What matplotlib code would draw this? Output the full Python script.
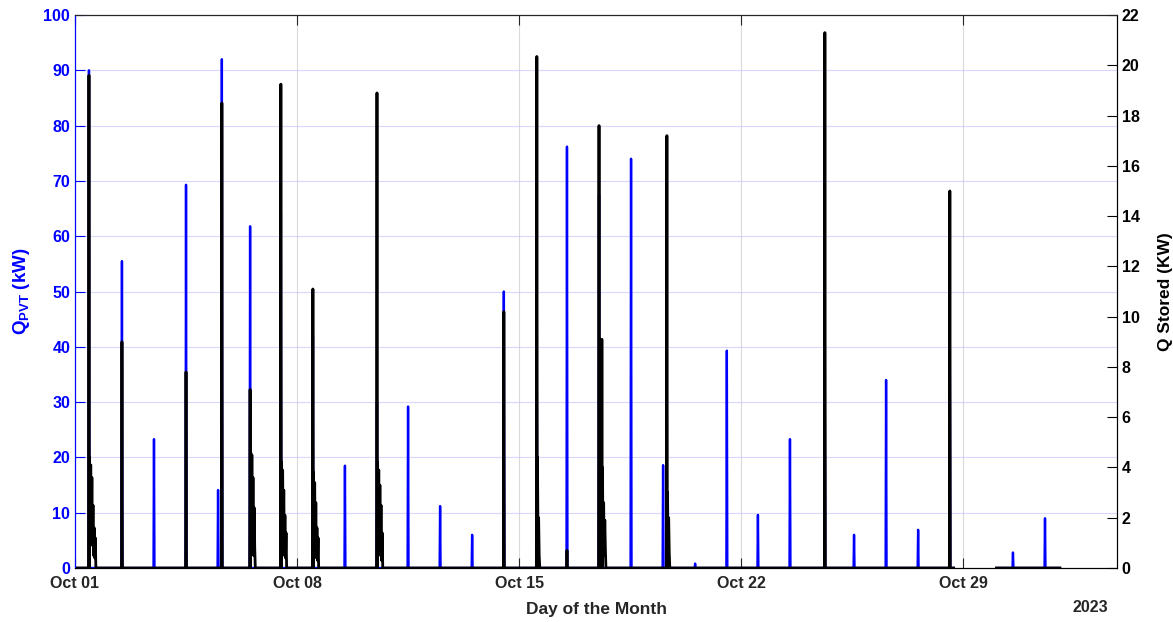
import datetime as dt
import numpy as np
import matplotlib
matplotlib.use('Agg')
import matplotlib.pyplot as plt
import matplotlib.dates as mdates

START = dt.datetime(2023, 10, 1)

# Q_PVT spikes (kW): day offset from Oct 01 00:00, peak value
pvt_days = [0.44, 1.48, 2.49, 3.50, 4.51, 4.63, 5.52, 6.49, 7.50, 8.51, 9.52,
            10.50, 11.51, 12.52, 13.52, 14.56, 15.51, 16.52, 17.53, 18.54,
            19.55, 20.55, 21.53, 22.54, 23.64, 24.56, 25.57, 26.58, 27.58,
            29.57, 30.58]
pvt_peaks = [90.0, 55.5, 23.3, 69.3, 14.1, 92.0, 61.8, 64.0, 42.0, 18.5, 30.0,
             29.2, 11.2, 6.0, 50.0, 32.0, 76.2, 67.5, 74.0, 18.6,
             0.8, 39.3, 9.6, 23.3, 27.0, 6.0, 34.0, 6.9, 39.6,
             2.8, 9.0]

# Q stored spikes (kW)
stored_days = [0.44, 1.48, 3.50, 4.63, 5.52, 6.49, 7.50, 9.52, 13.52, 14.56,
               15.51, 16.52, 16.61, 18.66, 23.64, 27.58]
stored_peaks = [19.6, 9.0, 7.8, 18.5, 7.1, 19.25, 11.1, 18.9, 10.2, 20.35,
                0.7, 17.6, 9.1, 17.2, 21.3, 15.0]

# decaying tails that follow some of the stored spikes
tail_days = [0.46, 5.54, 6.51, 7.52, 9.54, 14.58, 16.63, 18.68]
tail_values = [
    [4.4, 1.5, 4.1, 1.2, 3.6, 0.9, 2.5, 0.5, 1.6, 0.4, 1.2],
    [4.6, 1.0, 4.5, 0.8, 3.6, 0.5, 2.4, 0.8],
    [4.2, 0.8, 3.9, 1.0, 3.1, 0.5, 2.1, 0.4, 1.4],
    [3.8, 0.9, 3.4, 0.7, 2.6, 0.4, 1.6, 0.3, 1.2],
    [4.2, 1.0, 3.9, 0.8, 3.3, 0.5, 2.5, 0.3, 1.4],
    [4.4, 0.8, 2.0, 0.5],
    [4.0, 0.7, 2.6, 0.5, 1.9, 0.8],
    [3.0, 0.6, 2.0, 0.6],
]

# spans where the logger recorded data (day offsets)
pvt_spans = [(0.0, 27.7), (29.05, 31.05)]
stored_spans = [(0.0, 27.7), (29.05, 31.05)]


def spike_series(days, peaks, spans, tails=(), tail_vals=()):
    half = 0.015
    step = 0.018
    pts = []
    for d, p in zip(days, peaks):
        pts += [(d - half, 0.0), (d, p), (d + half, 0.0)]
    for d, vals in zip(tails, tail_vals):
        for i, v in enumerate(vals):
            pts.append((d + i * step, v))
        pts.append((d + len(vals) * step, 0.0))
    pts.sort()
    times, vals = [], []
    for a, b in spans:
        seg = [(a, 0.0)] + [p for p in pts if a < p[0] < b] + [(b, 0.0)]
        times += [START + dt.timedelta(days=p[0]) for p in seg]
        vals += [p[1] for p in seg]
        times.append(START + dt.timedelta(days=b + 0.01))
        vals.append(np.nan)
    return times, vals


pvt_t, pvt_y = spike_series(pvt_days, pvt_peaks, pvt_spans)
st_t, st_y = spike_series(stored_days, stored_peaks, stored_spans,
                          tail_days, tail_values)

plt.rcParams['font.family'] = ['Liberation Sans', 'DejaVu Sans']
plt.rcParams['font.weight'] = 'bold'
plt.rcParams['mathtext.fontset'] = 'custom'
plt.rcParams['mathtext.bf'] = 'Liberation Sans:bold'
plt.rcParams['mathtext.rm'] = 'Liberation Sans:bold'

fig = plt.figure(figsize=(11.73, 6.22), dpi=100)
ax1 = fig.add_axes([75 / 1173, 54 / 622, 1042 / 1173, 553 / 622])
ax2 = ax1.twinx()

blue = '#0000ff'
dark = '#262626'

ax1.plot(pvt_t, pvt_y, color=blue, linewidth=1.7)
ax2.plot(st_t, st_y, color='black', linewidth=2.0)

ax1.set_xlim(START, START + dt.timedelta(days=32.85))
ax1.set_ylim(0, 100)
ax2.set_ylim(0, 22)
ax1.set_yticks(np.arange(0, 101, 10))
ax2.set_yticks(np.arange(0, 23, 2))

tick_dates = [dt.datetime(2023, 10, d) for d in (1, 8, 15, 22, 29)]
ax1.set_xticks(tick_dates)
ax1.xaxis.set_major_formatter(mdates.DateFormatter('%b %d'))

ax1.grid(True, axis='y', color='#c8c8ff', linewidth=0.8, alpha=0.7)
ax1.grid(True, axis='x', color='#d9d9d9', linewidth=0.8)
ax1.set_axisbelow(True)

ax1.tick_params(axis='x', direction='in', length=7, top=True, colors=dark,
                labelsize=11.5, pad=6)
ax1.tick_params(axis='y', direction='in', length=7, colors=blue, labelsize=11.5)
ax2.tick_params(axis='y', direction='in', length=7, colors='black', labelsize=11.5)

for s in ['top', 'bottom']:
    ax1.spines[s].set_color(dark)
ax1.spines['left'].set_color(blue)
ax2.spines['left'].set_color(blue)
ax2.spines['right'].set_color('black')
ax2.spines['top'].set_color(dark)

ax1.set_xlabel('Day of the Month', fontsize=12.5, color=dark, labelpad=8,
               fontweight='bold')
ax1.set_ylabel(r'$\mathbf{Q_{PVT}}$ (kW)', fontsize=13.5, color=blue, labelpad=8,
               fontweight='bold')
ax2.set_ylabel('Q Stored (KW)', fontsize=12.5, color='black', labelpad=13,
               fontweight='bold')

fig.text(1090 / 1173, 1 - 607 / 622, '2023', ha='center', va='center',
         fontsize=11.5, color=dark, fontweight='bold')

fig.savefig('out.png', dpi=100)
